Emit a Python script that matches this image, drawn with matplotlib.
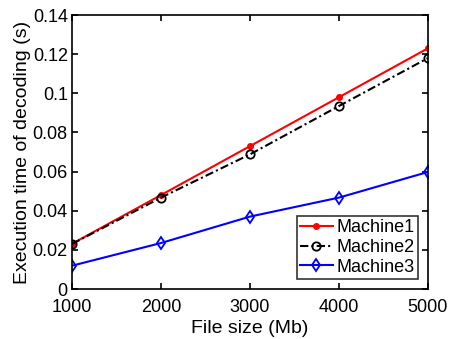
import numpy as np
import matplotlib.pyplot as plt

plt.rcParams['font.family'] = ['Liberation Sans', 'DejaVu Sans']

file_size = [1000, 2000, 3000, 4000, 5000]
machine1 = [0.0231, 0.048, 0.073, 0.098, 0.123]
machine2 = [0.023, 0.0467, 0.0688, 0.0935, 0.118]
machine3 = [0.0119, 0.0235, 0.037, 0.0467, 0.0598]
yticks = [0, 0.02, 0.04, 0.06, 0.08, 0.1, 0.12, 0.14]
yticklabels = ['0', '0.02', '0.04', '0.06', '0.08', '0.1', '0.12', '0.14']

fig = plt.figure(figsize=(4.49, 3.39), dpi=100)
ax = fig.add_axes([72/449, 1-289/339, (428-72)/449, (289-15)/339])

ax.plot(file_size, machine1, '-', color='red', marker='o', ms=4, lw=1.5, label='Machine1')
ax.plot(file_size, machine2, '-.', color='black', marker='o', ms=6, mfc='none', mew=1.3, lw=1.5,
        dashes=(4, 1.5, 1, 1.5), label='Machine2')
ax.plot(file_size, machine3, '-', color='blue', marker='d', ms=6, mfc='none', mew=1.3, lw=1.5, label='Machine3')

ax.set_xlim(1000, 5000)
ax.set_ylim(0, 0.14)
ax.set_xticks(file_size)
ax.set_yticks(yticks)
ax.set_yticklabels(yticklabels)
ax.tick_params(direction='in', top=True, right=True, labelsize=13, length=4, width=1.2)
ax.tick_params(axis='x', pad=7)
ax.tick_params(axis='y', pad=3)
for s in ax.spines.values():
    s.set_linewidth(1.2)
ax.set_xlabel('File size (Mb)', fontsize=14, labelpad=3)
ax.set_ylabel('Execution time of decoding (s)', fontsize=14, labelpad=1)

leg = ax.legend(loc='lower right', bbox_to_anchor=(0.972, 0.035), fontsize=13, frameon=True, fancybox=False,
                edgecolor='black', handlelength=1.8, handletextpad=0.2, borderpad=0.2, labelspacing=0.15,
                borderaxespad=0)
leg.get_frame().set_linewidth(1.2)

fig.savefig('out.png', dpi=100)
